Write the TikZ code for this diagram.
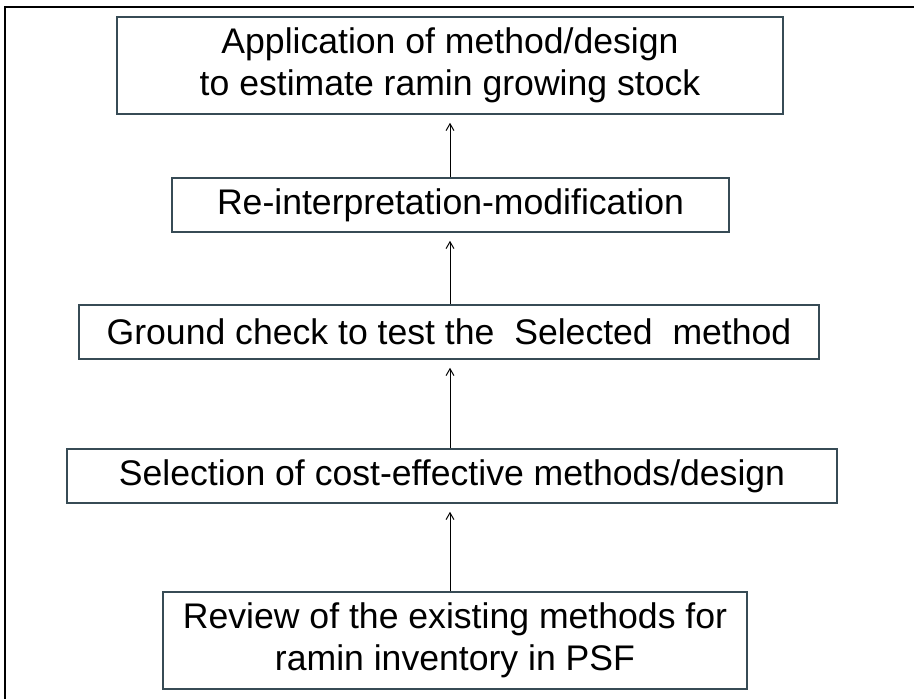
\documentclass[tikz,border=0pt]{standalone}
\usepackage{fontspec}
\setmainfont{Liberation Sans}
\usetikzlibrary{arrows}

\definecolor{boxline}{RGB}{55,75,85}

\begin{document}
\begin{tikzpicture}[x=0.5pt,y=-0.5pt,->,>=angle 60,shorten >=4pt,line width=0.5pt,
	flow box/.style={draw=boxline,line width=0.8pt,align=center,inner sep=0pt,
		font=\fontsize{17.8}{21}\selectfont}]
	
	\useasboundingbox (0,0) rectangle (916,699);
	\draw[-,line width=1pt] (5,705) -- (5,7) -- (922,7);
	
	\node[flow box,minimum width=333pt,minimum height=48.5pt] (apply) at (450,65.5)
		{Application of method/design\\to estimate ramin growing stock};
	\node[flow box,minimum width=278.5pt,minimum height=27pt] (reint) at (450.5,205)
		{Re-interpretation-modification};
	\node[flow box,minimum width=370pt,minimum height=27pt] (ground) at (449,332)
		{Ground check to test the\ \ Selected\ \ method};
	\node[flow box,minimum width=385pt,minimum height=27pt] (select) at (452,476)
		{Selection of cost-effective methods/design};
	\node[flow box,minimum width=292pt,minimum height=48.5pt] (review) at (455,640.5)
		{Review of the existing methods for\\ramin inventory in PSF};
	
	\path
	(review.north -| apply.south) edge (select.south -| apply.south)
	(select.north -| apply.south) edge (ground.south -| apply.south)
	(ground.north -| apply.south) edge (reint.south -| apply.south)
	(reint.north -| apply.south) edge (apply.south)
	;
\end{tikzpicture}
\end{document}
